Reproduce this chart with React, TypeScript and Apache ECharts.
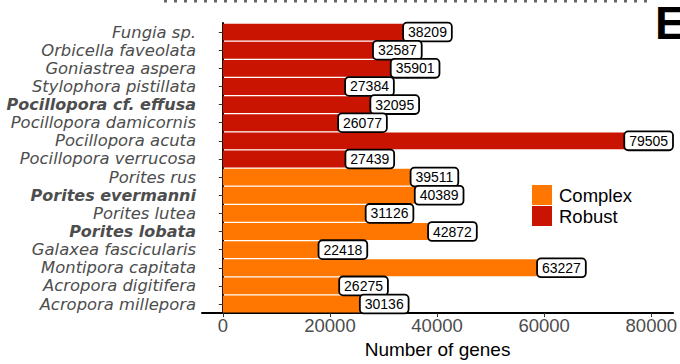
import React, { useEffect, useRef } from "react";
import * as echarts from "echarts";

const species = [
  "Fungia sp.",
  "Orbicella faveolata",
  "Goniastrea aspera",
  "Stylophora pistillata",
  "Pocillopora cf. effusa",
  "Pocillopora damicornis",
  "Pocillopora acuta",
  "Pocillopora verrucosa",
  "Porites rus",
  "Porites evermanni",
  "Porites lutea",
  "Porites lobata",
  "Galaxea fascicularis",
  "Montipora capitata",
  "Acropora digitifera",
  "Acropora millepora",
];
const geneCounts = [
  38209, 32587, 35901, 27384, 32095, 26077, 79505, 27439,
  39511, 40389, 31126, 42872, 22418, 63227, 26275, 30136,
];
const clades = [
  "Robust", "Robust", "Robust", "Robust", "Robust", "Robust", "Robust", "Robust",
  "Complex", "Complex", "Complex", "Complex", "Complex", "Complex", "Complex", "Complex",
];
const boldSpecies = ["Pocillopora cf. effusa", "Porites evermanni", "Porites lobata"];
const legendNames = ["Complex", "Robust"];
const cladeColors = ["#FF7700", "#C81400"];
const xTicks = [0, 20000, 40000, 60000, 80000];
const xAxisTitle = "Number of genes";
const panelLetter = "E";

const FONT = "Liberation Sans, Arial, Helvetica, sans-serif";
const LABEL_FONT = "DejaVu Sans, Liberation Sans, sans-serif";

export default function App() {
  const ref = useRef<HTMLDivElement>(null);
  useEffect(() => {
    if (!ref.current) return;
    const chart = echarts.init(ref.current, undefined, { renderer: "svg" });
    const series = legendNames.map((name, k) => ({
      name,
      type: "bar",
      barGap: "-100%",
      barCategoryGap: "7%",
      itemStyle: { color: cladeColors[k] },
      data: species.map((_, i) => (clades[i] === name ? geneCounts[i] : null)),
      label: {
        show: true,
        position: ["100%", "50%"],
        align: "center",
        verticalAlign: "middle",
        backgroundColor: "#ffffff",
        borderColor: "#000000",
        borderWidth: 1.8,
        borderRadius: 3,
        padding: [2, 4, 1, 4],
        fontSize: 14,
        color: "#000000",
        fontFamily: FONT,
      },
    }));
    chart.setOption({
      animation: false,
      grid: { left: 202, right: 3, top: 23, bottom: 42, containLabel: false },
      legend: {
        orient: "vertical",
        left: 532,
        top: 185,
        padding: 0,
        itemWidth: 20,
        itemHeight: 20,
        itemGap: 1,
        icon: "rect",
        data: legendNames,
        textStyle: { fontSize: 18.5, color: "#000", fontFamily: FONT, padding: [0, 0, 0, 2] },
      },
      xAxis: {
        type: "value",
        min: -3889,
        max: 84074,
        name: xAxisTitle,
        nameLocation: "middle",
        nameGap: 17,
        nameTextStyle: { fontSize: 19, color: "#000", fontFamily: FONT },
        axisLine: { show: true, lineStyle: { color: "#000", width: 2 } },
        axisTick: { show: true, length: 4, lineStyle: { color: "#333" }, customValues: xTicks },
        axisLabel: {
          customValues: xTicks,
          formatter: (v: number) => String(v),
          fontSize: 18.5,
          color: "#4d4d4d",
          fontFamily: FONT,
          margin: 3,
        },
        splitLine: { show: false },
      },
      yAxis: {
        type: "category",
        inverse: true,
        data: species,
        axisLine: { show: true, lineStyle: { color: "#000", width: 2 } },
        axisTick: { show: true, length: 4, alignWithLabel: true, interval: 0, lineStyle: { color: "#333" } },
        axisLabel: {
          interval: 0,
          margin: 6,
          formatter: (v: string) => (boldSpecies.includes(v) ? `{b|${v}}` : `{n|${v}}`),
          rich: {
            n: { fontSize: 16.4, lineHeight: 17, fontStyle: "italic", color: "#4d4d4d", fontFamily: LABEL_FONT },
            b: { fontSize: 16.0, lineHeight: 17, fontStyle: "italic", fontWeight: "bold", color: "#4d4d4d", fontFamily: LABEL_FONT },
          },
        },
      },
      graphic: [
        {
          type: "line",
          shape: { x1: 164, y1: 1, x2: 654, y2: 1 },
          style: { stroke: "#666", lineWidth: 3, lineDash: [3, 7] },
        },
        {
          type: "text",
          left: 655,
          top: 0,
          style: { text: panelLetter, fontSize: 46, fontWeight: "bold", fill: "#000", fontFamily: FONT },
        },
      ],
      series,
    });
    return () => chart.dispose();
  }, []);
  return (
    <div
      ref={ref}
      style={{ position: "fixed", left: 0, top: 0, width: 680, height: 364, background: "#fff" }}
    />
  );
}
